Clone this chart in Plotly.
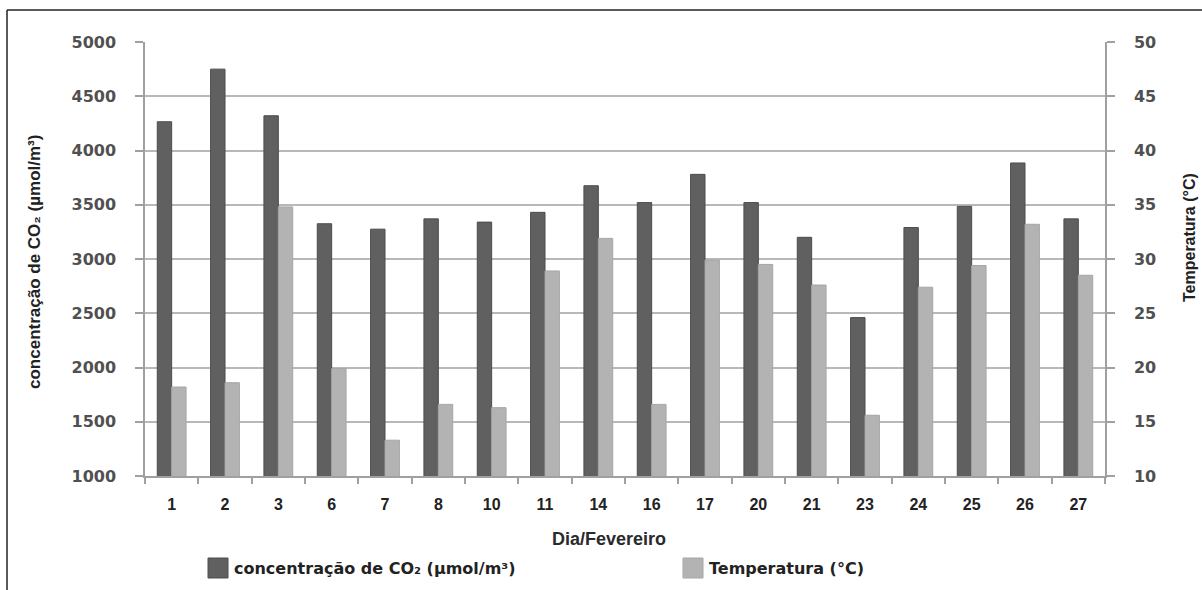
import plotly.graph_objects as go

# Dias de fevereiro com medição
dias = ["1", "2", "3", "6", "7", "8", "10", "11", "14", "16", "17", "20", "21", "23", "24", "25", "26", "27"]

# Concentração média de CO2 (µmol/m³)
co2 = [4265, 4750, 4320, 3325, 3275, 3370, 3340, 3430, 3675, 3520, 3780, 3520, 3200, 2460, 3290, 3485, 3885, 3370]

# Temperatura média (°C)
temperatura = [18.2, 18.6, 34.8, 19.9, 13.3, 16.6, 16.3, 28.9, 31.9, 16.6, 29.9, 29.5, 27.6, 15.6, 27.4, 29.4, 33.2, 28.5]

CO2_NOME = "concentração de CO₂ (µmol/m³)"
TEMP_NOME = "Temperatura (°C)"

COR_CO2 = "#606060"
COR_TEMP = "#b3b3b3"
GRADE = "#b8b8b8"

# page geometry (pixels) used to place the free-standing decorations
W, H = 1202, 590
ML, MR, MT, MB = 145, 97, 42, 114
PW, PH = W - ML - MR, H - MT - MB


def px(x):
    return (x - ML) / PW


def py(y):
    return (H - MB - y) / PH


fig = go.Figure()

fig.add_trace(go.Bar(
    x=dias, y=co2, name=CO2_NOME, yaxis="y",
    width=0.27, offset=-0.27,
    marker=dict(color=COR_CO2, line=dict(color="#4c4c4c", width=1)),
    showlegend=False,
))
fig.add_trace(go.Bar(
    x=dias, y=temperatura, name=TEMP_NOME, yaxis="y2",
    width=0.27, offset=0.0,
    marker=dict(color=COR_TEMP, line=dict(color="#a6a6a6", width=1)),
    showlegend=False,
))

tick_font_y = dict(family="DejaVu Sans", size=16, color="#505050", weight="bold")

fig.update_layout(
    width=W, height=H,
    margin=dict(l=ML, r=MR, t=MT, b=MB),
    paper_bgcolor="white", plot_bgcolor="white",
    barmode="overlay",
    xaxis=dict(
        type="category",
        tickson="boundaries",
        ticks="outside", ticklen=6, tickwidth=1.5, tickcolor="#a0a0a0",
        showline=True, linecolor="#a0a0a0", linewidth=1.5,
        showgrid=False,
        tickfont=dict(family="Liberation Sans", size=16, color="#222222", weight="bold"),
        ticklabelstandoff=13,
    ),
    yaxis=dict(
        range=[1000, 5000], dtick=500,
        showgrid=True, gridcolor=GRADE, gridwidth=1.5,
        showline=True, linecolor="#a0a0a0", linewidth=1.5,
        ticks="outside", ticklen=8, tickwidth=1.5, tickcolor="#a0a0a0",
        tickfont=tick_font_y,
        ticklabelstandoff=16,
        zeroline=False,
    ),
    yaxis2=dict(
        range=[10, 50], dtick=5,
        overlaying="y", side="right",
        showgrid=False,
        showline=True, linecolor="#a0a0a0", linewidth=1.5,
        ticks="outside", ticklen=8, tickwidth=1.5, tickcolor="#a0a0a0",
        tickfont=tick_font_y,
        ticklabelstandoff=16,
        zeroline=False,
    ),
)

# frame lines around the figure
fig.add_shape(type="line", xref="paper", yref="paper",
              x0=px(7), x1=px(1202), y0=py(10), y1=py(10),
              line=dict(color="#222222", width=1.5))
fig.add_shape(type="line", xref="paper", yref="paper",
              x0=px(7), x1=px(7), y0=py(10), y1=py(590),
              line=dict(color="#222222", width=1.5))

# axis titles
fig.add_annotation(xref="paper", yref="paper", x=px(34), y=py(262),
                   text=CO2_NOME, textangle=-90, showarrow=False,
                   xanchor="center", yanchor="middle",
                   font=dict(family="Liberation Sans", size=17, color="#222222", weight="bold"))
fig.add_annotation(xref="paper", yref="paper", x=px(1189), y=py(238),
                   text=TEMP_NOME, textangle=-90, showarrow=False,
                   xanchor="center", yanchor="middle",
                   font=dict(family="Liberation Sans", size=16, color="#222222", weight="bold"))
fig.add_annotation(xref="paper", yref="paper", x=px(609), y=py(539),
                   text="Dia/Fevereiro", showarrow=False,
                   xanchor="center", yanchor="middle",
                   font=dict(family="Liberation Sans", size=18, color="#2a2a2a", weight="bold"))

# legend
legenda = [(208, COR_CO2, "#4c4c4c", CO2_NOME), (683, COR_TEMP, "#a6a6a6", TEMP_NOME)]
for x0, cor, borda, texto in legenda:
    fig.add_shape(type="rect", xref="paper", yref="paper",
                  x0=px(x0), x1=px(x0 + 20), y0=py(578), y1=py(558),
                  fillcolor=cor, line=dict(color=borda, width=1))
    fig.add_annotation(xref="paper", yref="paper", x=px(x0 + 24), y=py(568),
                       text=texto, showarrow=False,
                       xanchor="left", yanchor="middle",
                       font=dict(family="DejaVu Sans", size=16, color="#222222", weight="bold"))

fig.write_html("out.html")
